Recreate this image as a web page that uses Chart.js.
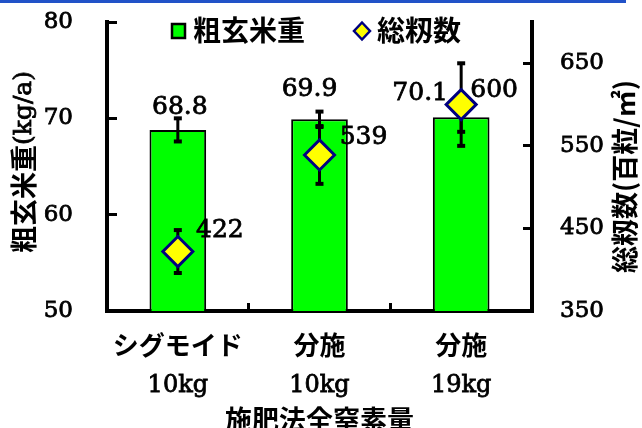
<!DOCTYPE html>
<html>
<head>
<meta charset="utf-8">
<script src="https://cdn.jsdelivr.net/npm/chart.js@4.4.1/dist/chart.umd.min.js"></script>
<style>
  html, body { margin: 0; padding: 0; background: #fff; }
  canvas { display: block; }
</style>
</head>
<body>
<canvas id="chart" width="642" height="428"></canvas>
<script>
// Treatments: fertilization method (first line) and total nitrogen (second line)
const methods = ['シグモイド', '分施', '分施'];
const nitrogen = ['10kg', '10kg', '19kg'];

// Brown rice weight (kg/a) and its error
const riceWeight = [68.8, 69.9, 70.1];
const riceWeightErr = [1.2, 0.8, 1.5];

// Total spikelet number (100 grains / m2) and its error
const spikelets = [422, 539, 600];
const spikeletsErr = [26, 35, 50];

// Axis tick values
const weightTicks = [50, 60, 70, 80];
const spikeletTicks = [350, 450, 550, 650];

const SERIF = '"DejaVu Serif"';
const CJK = '"Noto Sans CJK JP"';

// Offsets (px) of the value labels from the bar top / marker centre
const weightLabelOffsets = [[2, -22], [-10, -30], [-41, -24]];
const spikeletLabelOffsets = [[42, -21], [44, -17], [33, -14]];

const background = {
  id: 'background',
  beforeDraw(chart) {
    const ctx = chart.ctx;
    ctx.save();
    ctx.fillStyle = '#ffffff';
    ctx.fillRect(0, 0, chart.width, chart.height);
    ctx.fillStyle = '#2152c8';
    ctx.fillRect(0, 0, 626, 3);
    ctx.restore();
  }
};

// Error bars for both series, drawn over the bars and under the markers
const errorBars = {
  id: 'errorBars',
  afterDatasetDraw(chart, args) {
    if (args.index !== 0) return;
    const ctx = chart.ctx;
    const xs = chart.scales.x;
    const draw = (scale, values, errs) => {
      values.forEach((v, i) => {
        const px = xs.getPixelForValue(i);
        const top = scale.getPixelForValue(v + errs[i]);
        const bot = scale.getPixelForValue(v - errs[i]);
        ctx.strokeStyle = '#000';
        ctx.lineWidth = 3;
        ctx.beginPath();
        ctx.moveTo(px, top);
        ctx.lineTo(px, bot);
        ctx.stroke();
        ctx.lineWidth = 4;
        [top, bot].forEach(y => {
          ctx.beginPath();
          ctx.moveTo(px - 4, y);
          ctx.lineTo(px + 4, y);
          ctx.stroke();
        });
      });
    };
    ctx.save();
    draw(chart.scales.y, riceWeight, riceWeightErr);
    draw(chart.scales.y2, spikelets, spikeletsErr);
    ctx.restore();
  }
};

// Numeric value labels next to bars and markers
const valueLabels = {
  id: 'valueLabels',
  afterDatasetsDraw(chart) {
    const ctx = chart.ctx;
    const bars = chart.getDatasetMeta(0).data;
    const pts = chart.getDatasetMeta(1).data;
    ctx.save();
    ctx.font = `25px ${SERIF}`;
    ctx.fillStyle = '#000';
    ctx.strokeStyle = '#000';
    ctx.lineWidth = 0.8;
    ctx.textAlign = 'center';
    ctx.textBaseline = 'middle';
    const put = (text, x, y) => { ctx.fillText(text, x, y); ctx.strokeText(text, x, y); };
    bars.forEach((b, i) => {
      const [dx, dy] = weightLabelOffsets[i];
      put(riceWeight[i].toFixed(1), b.x + dx, b.y + dy);
    });
    pts.forEach((p, i) => {
      const [dx, dy] = spikeletLabelOffsets[i];
      put(String(spikelets[i]), p.x + dx, p.y + dy);
    });
    ctx.restore();
  }
};

// Legend inside the top of the plot
const legendBox = {
  id: 'legendBox',
  afterDraw(chart) {
    const ctx = chart.ctx;
    const [barSet, ptSet] = chart.data.datasets;
    const cy = 31;
    ctx.save();
    ctx.fillStyle = barSet.backgroundColor;
    ctx.fillRect(172, cy - 7, 13, 14);
    ctx.lineWidth = 2.5;
    ctx.strokeStyle = '#000';
    ctx.strokeRect(172, cy - 7, 13, 14);

    ctx.beginPath();
    ctx.moveTo(362, cy - 8.5);
    ctx.lineTo(370, cy);
    ctx.lineTo(362, cy + 8.5);
    ctx.lineTo(354, cy);
    ctx.closePath();
    ctx.fillStyle = ptSet.pointBackgroundColor;
    ctx.fill();
    ctx.strokeStyle = ptSet.pointBorderColor;
    ctx.stroke();

    ctx.font = `bold 28px ${CJK}`;
    ctx.fillStyle = '#000';
    ctx.textAlign = 'left';
    ctx.textBaseline = 'middle';
    ctx.fillText(barSet.label, 193, cy - 1);
    ctx.fillText(ptSet.label, 377, cy - 1);
    ctx.restore();
  }
};

// Vertical axis titles (read bottom to top), mixing CJK and serif runs
function drawVertical(ctx, segments, cx, yStart) {
  ctx.save();
  ctx.translate(cx, yStart);
  ctx.rotate(-Math.PI / 2);
  ctx.fillStyle = '#000';
  ctx.strokeStyle = '#000';
  ctx.textAlign = 'left';
  ctx.textBaseline = 'middle';
  let x = 0;
  segments.forEach(s => {
    ctx.font = s.font;
    ctx.fillText(s.text, x, 0);
    if (s.stroke) {
      ctx.lineWidth = s.stroke;
      ctx.strokeText(s.text, x, 0);
    }
    x += ctx.measureText(s.text).width;
  });
  ctx.restore();
}

const axisTitles = {
  id: 'axisTitles',
  afterDraw(chart) {
    const ctx = chart.ctx;
    drawVertical(ctx, [
      { text: '粗玄米重', font: `bold 27px ${CJK}` },
      { text: '(kg/a)', font: `25px ${SERIF}`, stroke: 0.8 }
    ], 24, 253);
    drawVertical(ctx, [
      { text: '総籾数(百粒/㎡)', font: `bold 27px ${CJK}` }
    ], 625, 273);
  }
};

// Keep the plot area fixed: no extra room reserved for edge tick labels
function noEdgePadding(s) {
  s.paddingTop = 0;
  s.paddingBottom = 0;
  s.paddingLeft = 0;
  s.paddingRight = 0;
}

const numberTicks = {
  color: '#000',
  textStrokeColor: '#000',
  textStrokeWidth: 0.8,
  font: { family: SERIF, size: 23 }
};

new Chart(document.getElementById('chart'), {
  type: 'bar',
  data: {
    labels: methods,
    datasets: [
      {
        type: 'bar',
        label: '粗玄米重',
        data: riceWeight,
        xAxisID: 'x',
        yAxisID: 'y',
        backgroundColor: '#00ff00',
        borderColor: '#000000',
        borderWidth: 2,
        barPercentage: 0.4,
        categoryPercentage: 1,
        order: 2
      },
      {
        type: 'line',
        label: '総籾数',
        data: spikelets,
        xAxisID: 'x',
        yAxisID: 'y2',
        showLine: false,
        pointStyle: 'rectRot',
        pointRadius: 15,
        pointBackgroundColor: '#ffff00',
        pointBorderColor: '#000080',
        pointBorderWidth: 3,
        order: 1
      }
    ]
  },
  options: {
    responsive: false,
    animation: false,
    devicePixelRatio: 1,
    layout: { padding: { top: 22, left: 0, right: 0, bottom: 0 } },
    plugins: {
      legend: { display: false },
      tooltip: { enabled: false }
    },
    scales: {
      x: {
        type: 'category',
        position: 'bottom',
        offset: true,
        weight: 0,
        grid: {
          display: true, offset: true, drawOnChartArea: false, drawTicks: true,
          tickLength: -8, tickWidth: 3, tickColor: '#000'
        },
        border: { display: true, color: '#000', width: 4 },
        ticks: {
          color: '#000', autoSkip: false, maxRotation: 0, padding: 27,
          font: { family: CJK, size: 26, weight: 'bold' }
        },
        afterFit(s) { noEdgePadding(s); s.height = 55; }
      },
      x2: {
        type: 'category',
        position: 'bottom',
        labels: nitrogen,
        offset: true,
        weight: 1,
        grid: { display: false, drawTicks: false, tickLength: 0 },
        border: { display: false },
        ticks: {
          ...numberTicks,
          autoSkip: false, maxRotation: 0, padding: 5,
          font: { family: SERIF, size: 24 }
        },
        title: {
          display: true,
          text: '施肥法全窒素量',
          color: '#000',
          padding: 0,
          font: { family: CJK, size: 27, weight: 'bold', lineHeight: 0.6 }
        },
        afterFit(s) { noEdgePadding(s); s.height = 62; }
      },
      y: {
        type: 'linear',
        position: 'left',
        min: 50,
        max: 80,
        afterBuildTicks(s) { s.ticks = weightTicks.map(v => ({ value: v })); },
        grid: {
          display: true, drawOnChartArea: false, drawTicks: true,
          tickLength: -10, tickWidth: 3, tickColor: '#000'
        },
        border: { display: true, color: '#000', width: 4 },
        ticks: { ...numberTicks, padding: 44 },
        afterFit(s) { noEdgePadding(s); s.width = 107; }
      },
      y2: {
        type: 'linear',
        position: 'right',
        min: 350,
        max: 700,
        afterBuildTicks(s) { s.ticks = spikeletTicks.map(v => ({ value: v })); },
        grid: {
          display: true, drawOnChartArea: false, drawTicks: true,
          tickLength: -9, tickWidth: 3, tickColor: '#000'
        },
        border: { display: true, color: '#000', width: 4 },
        ticks: { ...numberTicks, padding: 37 },
        afterFit(s) { noEdgePadding(s); s.width = 110; }
      }
    }
  },
  plugins: [background, errorBars, valueLabels, legendBox, axisTitles]
});
</script>
</body>
</html>
